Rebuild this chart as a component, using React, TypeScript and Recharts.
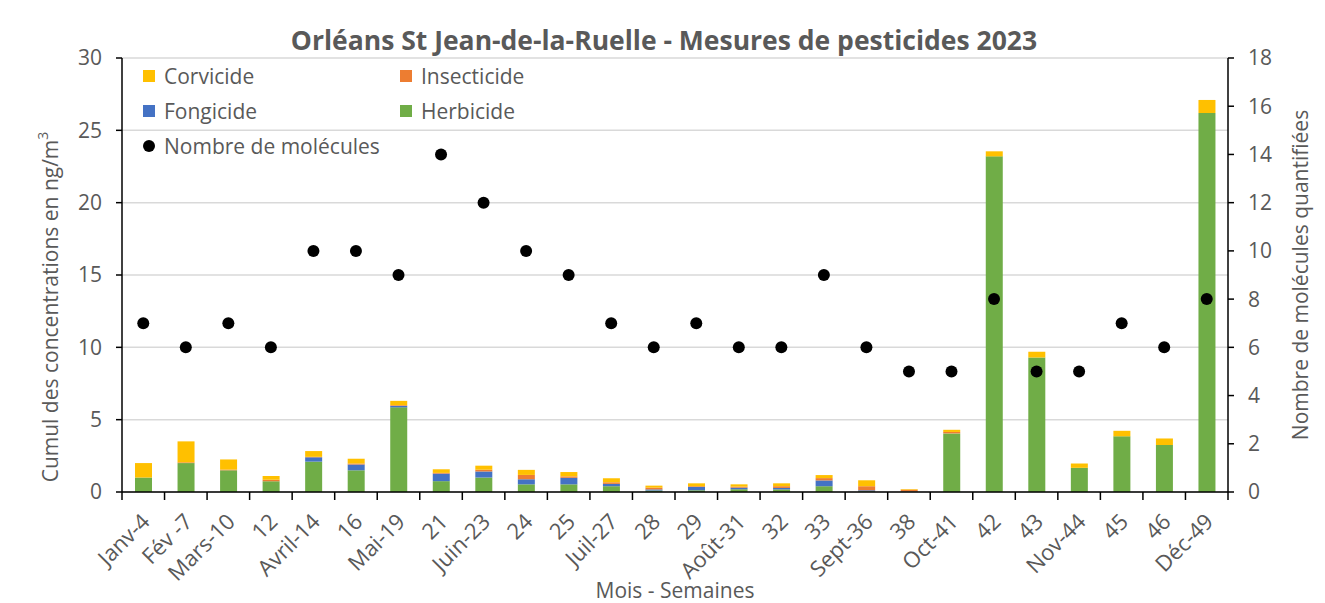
import React from "react";
import {
  ComposedChart,
  Bar,
  Scatter,
  XAxis,
  YAxis,
  CartesianGrid,
  Legend,
} from "recharts";

const categories = [
  "Janv-4", "Fév -7", "Mars-10", "12", "Avril-14", "16", "Mai-19", "21", "Juin-23", "24", "25", "Juil-27", "28",
  "29", "Août-31", "32", "33", "Sept-36", "38", "Oct-41", "42", "43", "Nov-44", "45", "46", "Déc-49",
];
const herbicide = [1.0, 2.0, 1.5, 0.75, 2.1, 1.5, 5.85, 0.75, 1.0, 0.53, 0.53, 0.4, 0.1, 0.12, 0.19, 0.18, 0.4, 0.05, 0.02, 4.05, 23.2, 9.3, 1.67, 3.85, 3.25, 26.2];
const fongicide = [0, 0, 0, 0, 0.3, 0.4, 0.1, 0.52, 0.42, 0.35, 0.45, 0.16, 0.08, 0.23, 0.11, 0.1, 0.4, 0.07, 0.02, 0, 0, 0, 0, 0, 0, 0];
const insecticide = [0, 0.05, 0.05, 0.1, 0.03, 0.07, 0.05, 0.05, 0.12, 0.3, 0.1, 0.11, 0.12, 0.05, 0.07, 0.12, 0.16, 0.28, 0.12, 0.1, 0, 0, 0, 0, 0, 0];
const corvicide = [1.0, 1.45, 0.7, 0.25, 0.4, 0.33, 0.3, 0.25, 0.28, 0.35, 0.3, 0.28, 0.14, 0.2, 0.16, 0.2, 0.21, 0.41, 0.04, 0.15, 0.35, 0.4, 0.3, 0.38, 0.45, 0.9];
const molecules = [7, 6, 7, 6, 10, 10, 9, 14, 12, 10, 9, 7, 6, 7, 6, 6, 9, 6, 5, 5, 8, 5, 5, 7, 6, 8];

const leftTicks = [0, 5, 10, 15, 20, 25, 30];
const rightTicks = [0, 2, 4, 6, 8, 10, 12, 14, 16, 18];

const data = categories.map((name, i) => ({
  name,
  herbicide: herbicide[i],
  fongicide: fongicide[i],
  insecticide: insecticide[i],
  corvicide: corvicide[i],
  molecules: molecules[i],
}));

const FONT = "'Open Sans', sans-serif";
const GREY = "#595959";

const legendItems = [
  { label: "Corvicide", color: "#FFC000", dot: false },
  { label: "Insecticide", color: "#ED7D31", dot: false },
  { label: "Fongicide", color: "#4472C4", dot: false },
  { label: "Herbicide", color: "#70AD47", dot: false },
  { label: "Nombre de molécules", color: "#000000", dot: true },
];

// ticks between categories + rotated label
const XTick = (props: any) => {
  const { x, y, payload, index, width, visibleTicksCount } = props;
  const step = width / visibleTicksCount;
  const ax = x + 8;
  const ay = y + 31;
  return (
    <g>
      <line x1={x - step / 2} x2={x - step / 2} y1={y} y2={y + 8} stroke="#000" strokeWidth={1.5} />
      {index === visibleTicksCount - 1 && (
        <line x1={x + step / 2} x2={x + step / 2} y1={y} y2={y + 8} stroke="#000" strokeWidth={1.5} />
      )}
      <text
        x={ax}
        y={ay}
        textAnchor="end"
        fill={GREY}
        fontSize={22}
        fontFamily={FONT}
        transform={`rotate(-45, ${ax}, ${ay})`}
      >
        {payload.value}
      </text>
    </g>
  );
};

const renderLegend = () => (
  <div
    style={{
      display: "grid",
      gridTemplateColumns: "257px 200px",
      rowGap: 0,
      fontFamily: FONT,
      fontSize: 21,
      color: GREY,
    }}
  >
    {legendItems.map((it) => (
      <div key={it.label} style={{ display: "flex", alignItems: "center", height: 35 }}>
        {it.dot ? (
          <span style={{ width: 12, height: 12, borderRadius: 6, background: it.color, marginRight: 9 }} />
        ) : (
          <span style={{ width: 12, height: 12, background: it.color, marginRight: 9 }} />
        )}
        <span>{it.label}</span>
      </div>
    ))}
  </div>
);

export default function App() {
  return (
    <div style={{ position: "relative", width: 1310, height: 595 }}>
      <div
        style={{
          position: "absolute",
          left: -1,
          top: -1,
          width: 1311,
          height: 620,
          border: "1px solid #D9D9D9",
          boxSizing: "border-box",
        }}
      />
      <div
        style={{
          position: "absolute",
          left: 0,
          top: 14,
          width: 1312,
          textAlign: "center",
          fontFamily: FONT,
          fontWeight: 700,
          fontSize: 26.5,
          color: GREY,
        }}
      >
        Orléans St Jean-de-la-Ruelle - Mesures de pesticides 2023
      </div>
      <ComposedChart
        width={1310}
        height={595}
        data={data}
        margin={{ top: 50, right: 30, left: 20, bottom: 3 }}
        barCategoryGap={0}
      >
        <CartesianGrid vertical={false} stroke="#D9D9D9" strokeWidth={1.5} yAxisId="left" />
        <XAxis
          dataKey="name"
          interval={0}
          tickLine={false}
          tickSize={0}
          tickMargin={0}
          height={108}
          tick={<XTick />}
          axisLine={{ stroke: "#000", strokeWidth: 1.5 }}
          label={(p: any) => {
            const vb = p.viewBox;
            return (
              <text x={vb.x + vb.width / 2} y={vb.y + vb.height - 2} textAnchor="middle" fill={GREY} fontSize={21} fontFamily={FONT}>
                Mois - Semaines
              </text>
            );
          }}
        />
        <YAxis
          yAxisId="left"
          width={94}
          domain={[0, 30]}
          ticks={leftTicks}
          tickLine={{ stroke: "#000", strokeWidth: 1.5 }}
          tickSize={6}
          tickMargin={14}
          axisLine={{ stroke: "#000", strokeWidth: 1.5 }}
          tick={{ fill: GREY, fontSize: 21, fontFamily: FONT }}
          label={(p: any) => {
            const vb = p.viewBox;
            const cx = 42;
            const cy = vb.y + vb.height / 2 + 32;
            return (
              <text x={cx} y={cy} textAnchor="middle" dominantBaseline="central" fill={GREY} fontSize={21} fontFamily={FONT} transform={`rotate(-90, ${cx}, ${cy})`}>
                Cumul des concentrations en ng/m<tspan dy={-8} fontSize={14}>3</tspan>
              </text>
            );
          }}
        />
        <YAxis
          yAxisId="right"
          orientation="right"
          width={60}
          domain={[0, 18]}
          ticks={rightTicks}
          tickLine={{ stroke: "#000", strokeWidth: 1.5 }}
          tickSize={6}
          tickMargin={14}
          axisLine={{ stroke: "#000", strokeWidth: 1.5 }}
          tick={{ fill: GREY, fontSize: 21, fontFamily: FONT, textAnchor: "start" }}
          label={(p: any) => {
            const vb = p.viewBox;
            const cx = 1292;
            const cy = vb.y + vb.height / 2;
            return (
              <text x={cx} y={cy} textAnchor="middle" dominantBaseline="central" fill={GREY} fontSize={21} fontFamily={FONT} transform={`rotate(-90, ${cx}, ${cy})`}>
                Nombre de molécules quantifiées
              </text>
            );
          }}
        />
        <Legend
          content={renderLegend}
          layout="horizontal"
          align="center"
          verticalAlign="middle"
          wrapperStyle={{ position: "absolute", left: 135, top: 50, width: 470 }}
        />
        <Bar yAxisId="left" dataKey="herbicide" stackId="a" fill="#70AD47" barSize={17} isAnimationActive={false} />
        <Bar yAxisId="left" dataKey="fongicide" stackId="a" fill="#4472C4" barSize={17} isAnimationActive={false} />
        <Bar yAxisId="left" dataKey="insecticide" stackId="a" fill="#ED7D31" barSize={17} isAnimationActive={false} />
        <Bar yAxisId="left" dataKey="corvicide" stackId="a" fill="#FFC000" barSize={17} isAnimationActive={false} />
        <Scatter
          yAxisId="right"
          dataKey="molecules"
          fill="#000"
          isAnimationActive={false}
          shape={(p: any) => <circle cx={p.cx} cy={p.cy} r={6} fill="#000" />}
        />
      </ComposedChart>
    </div>
  );
}
